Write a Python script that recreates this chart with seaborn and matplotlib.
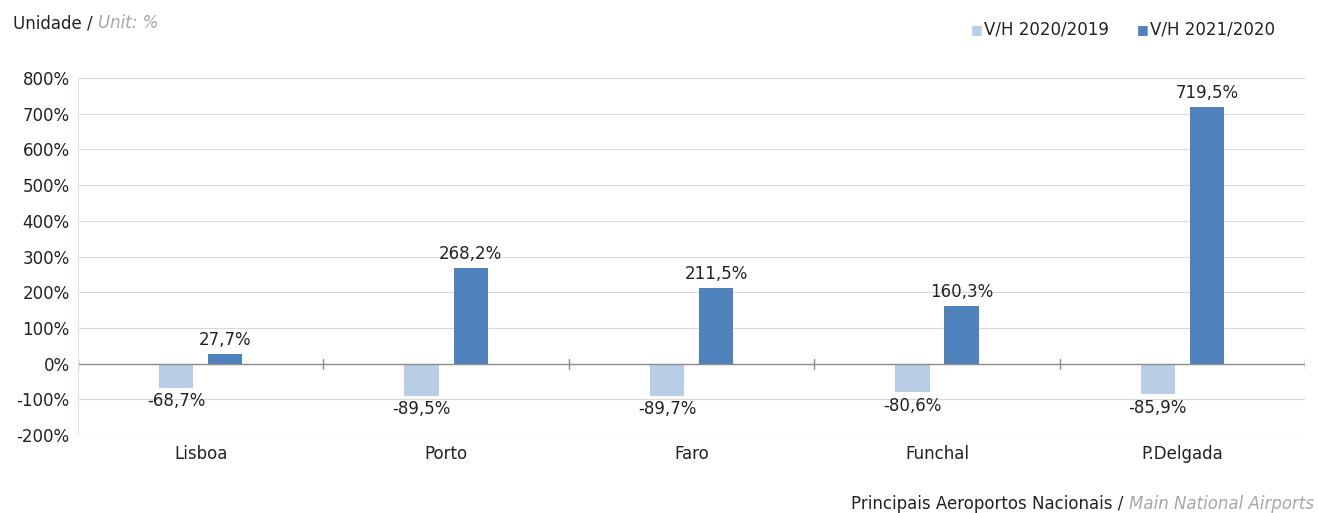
import pandas as pd
import numpy as np
import matplotlib.pyplot as plt
import seaborn as sns

airports = ['Lisboa', 'Porto', 'Faro', 'Funchal', 'P.Delgada']
vh_2020 = [-68.7, -89.5, -89.7, -80.6, -85.9]
vh_2021 = [27.7, 268.2, 211.5, 160.3, 719.5]
series = ['V/H 2020/2019', 'V/H 2021/2020']
yticks = [-200, -100, 0, 100, 200, 300, 400, 500, 600, 700, 800]

df = pd.DataFrame({
    'airport': airports * 2,
    'value': vh_2020 + vh_2021,
    'serie': [series[0]] * len(airports) + [series[1]] * len(airports),
})

sns.set_style('white')
plt.rcParams['font.family'] = ['DejaVu Sans']
FS = 12

fig = plt.figure(figsize=(13.18, 5.13), dpi=100)
ax = fig.add_axes([0.0592, 0.152, 0.931, 0.696])

sns.barplot(data=df, x='airport', y='value', hue='serie', ax=ax,
            palette=['#B9CDE5', '#4F81BD'], width=0.4, gap=0.3,
            saturation=1, linewidth=0, legend=False)

# data labels
for cont in ax.containers:
    for bar in cont:
        h = bar.get_height()
        x = bar.get_x() + bar.get_width() / 2
        txt = f'{h:.1f}%'.replace('.', ',')
        if h >= 0:
            ax.text(x, h + 14, txt, ha='center', va='bottom', fontsize=FS, color='#222222')
        else:
            ax.text(x, h - 12, txt, ha='center', va='top', fontsize=FS, color='#222222')

ax.set_ylim(-200, 800)
ax.set_xlim(-0.5, len(airports) - 0.5)
ax.set_yticks(yticks)
ax.set_yticklabels([f'{v}%' for v in yticks], fontsize=FS, color='#222222')
ax.yaxis.grid(True, color='#D9D9D9', linewidth=0.8)
ax.set_axisbelow(True)
ax.tick_params(axis='x', length=0, labelsize=FS, labelcolor='#222222', pad=7)
ax.tick_params(axis='y', length=0, pad=6)
ax.set_xlabel('')
ax.set_ylabel('')
for s in ['top', 'right', 'bottom']:
    ax.spines[s].set_visible(False)
ax.spines['left'].set_color('#DCE6F2')

# zero line with category separators
ax.axhline(0, color='#8C8C8C', linewidth=1)
for b in np.arange(-0.5, len(airports), 1.0):
    ax.plot([b, b], [-14, 14], color='#8C8C8C', linewidth=1)

# legend
fig.text(0.7365, 0.942, '■', color='#B9CDE5', fontsize=9, va='center')
fig.text(0.7466, 0.942, series[0], fontsize=FS, va='center', color='#222222')
fig.text(0.8625, 0.942, '■', color='#4F81BD', fontsize=9, va='center')
fig.text(0.8726, 0.942, series[1], fontsize=FS, va='center', color='#222222')

# header / footer
t = fig.text(0.010, 0.955, 'Unidade / ', fontsize=FS, va='center', color='#222222')
fig.canvas.draw()
bb = t.get_window_extent()
fig.text(bb.x1 / fig.bbox.width, 0.955, 'Unit: %', fontsize=FS, va='center',
         color='#A6A6A6', style='italic')

t2 = fig.text(0.997, 0.018, 'Main National Airports', fontsize=FS, ha='right',
              va='center', color='#A6A6A6', style='italic')
fig.canvas.draw()
bb2 = t2.get_window_extent()
fig.text(bb2.x0 / fig.bbox.width, 0.018, 'Principais Aeroportos Nacionais / ',
         fontsize=FS, ha='right', va='center', color='#222222')

fig.savefig('out.png', dpi=100)
